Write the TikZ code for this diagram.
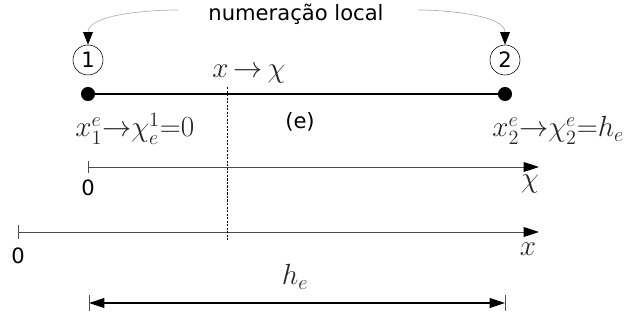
\documentclass[tikz,border=0pt]{standalone}
\usepackage{fontspec}
\setsansfont{DejaVu Sans}
\usetikzlibrary{arrows.meta}

\tikzset{
  axis/.style={draw=black!70, line width=0.7pt, -{Triangle[length=11pt,width=7pt,black]}},
  bend arrow/.style={draw=black!30, line width=0.5pt, -{Triangle[length=9pt,width=7pt,black]}},
  sflabel/.style={font=\sffamily\fontsize{15}{17}\selectfont, inner sep=1pt},
  mathlabel/.style={font=\fontsize{21}{24}\selectfont, inner sep=0pt, text=black!85},
  nodenum/.style={circle, draw, line width=0.4pt, inner sep=0pt, minimum size=0.75cm,
    font=\sffamily\fontsize{15}{17}\selectfont}
}

\begin{document}
\begin{tikzpicture}[x=0.025cm, y=-0.025cm]
    \useasboundingbox (0,0) rectangle (627,320);
    % element (e)
    \coordinate (n1) at (88,94);
    \coordinate (n2) at (505,94);
    \draw[line width=1.6pt] (n1) -- (n2);
    \fill (n1) circle (5pt) (n2) circle (5pt);
    \node[nodenum] (c1) at (88,60) {1};
    \node[nodenum] (c2) at (505,60) {2};
    \node[sflabel] (loc) at (296,14) {numeração local};
    \coordinate (a1) at (178,10);
    \coordinate (a2) at (418,10);
    \draw[bend arrow] (a1) to[out=180, in=90, looseness=0.8] (c1.north);
    \draw[bend arrow] (a2) to[out=0, in=90, looseness=0.8] (c2.north);
    \node[mathlabel, anchor=base] (map) at (249,78) {$x\,{\rightarrow}\,\chi$};
    \node[sflabel] (el) at (300,122) {(e)};
    \node[mathlabel, anchor=base west] (x1) at (75,137) {$x_1^e{\rightarrow}\chi_e^1{=}0$};
    \node[mathlabel, anchor=base west] (x2) at (492,137) {$x_2^e{\rightarrow}\chi_2^e{=}h_e$};
    % local axis
    \coordinate (o1) at (88,167);
    \coordinate (e1) at (539,167);
    \draw[axis] (o1) -- (e1);
    \draw[black!70, line width=0.7pt] ([yshift=4pt]o1) -- ([yshift=-4pt]o1);
    \node[sflabel] (z1) at (88,188) {0};
    \node[mathlabel] (chi) at (530,184) {$\chi$};
    % global axis
    \coordinate (o2) at (18,232);
    \coordinate (e2) at (539,232);
    \draw[axis] (o2) -- (e2);
    \draw[black!70, line width=0.7pt] ([yshift=5pt]o2) -- ([yshift=-5pt]o2);
    \node[sflabel] (z2) at (18,256) {0};
    \node[mathlabel] (xg) at (528,249) {$x$};
    % point x
    \coordinate (d1) at (227,87);
    \coordinate (d2) at (227,240);
    \draw[line width=0.5pt, dash pattern=on 1.5pt off 1pt] (d1) -- (d2);
    % length h_e
    \coordinate (h1) at (89,303);
    \coordinate (h2) at (505,303);
    \draw[line width=0.8pt, {Triangle[length=11pt,width=7pt]}-{Triangle[length=11pt,width=7pt]}] (h1) -- (h2);
    \draw[black!70, line width=0.7pt] ([yshift=6pt]h1) -- ([yshift=-6pt]h1);
    \draw[black!70, line width=0.7pt] ([yshift=6pt]h2) -- ([yshift=-6pt]h2);
    \node[mathlabel] (he) at (295,277) {$h_e$};
\end{tikzpicture}
\end{document}
